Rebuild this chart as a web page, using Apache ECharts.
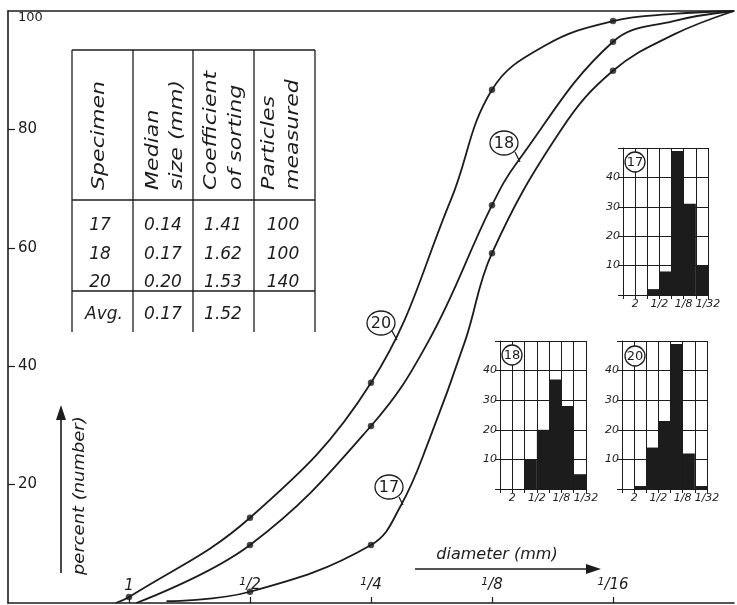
<!DOCTYPE html>
<html><head><meta charset="utf-8">
<script src="https://cdn.jsdelivr.net/npm/echarts@6/dist/echarts.min.js"></script>
<style>html,body{margin:0;padding:0;background:#fff}#c{width:737px;height:605px}</style>
</head><body><div id="c"></div>
<script>
// x values are phi = -log2(diameter in mm)
const diameterLabels = {'0':['1',''],'1':['1','/2'],'2':['1','/4'],'3':['1','/8'],'4':['1','/16']};
const histDiameterLabels = {'-1':'2','1':'1/2','3':'1/8','5':'1/32'};
const percentLabels = [20,40,60,80,100];

// cumulative curves (percent by number)
const curve20 = [[-0.11,0],[0,1.0],[1,14.4],[2,37.2],[2.66,68.1],[3,86.7],[3.45,94.3],[4,98.3],[4.5,99.5],[5,100]];
const curve18 = [[0.06,0],[1,9.8],[2,29.9],[2.48,44.4],[3,67.2],[3.21,74.5],[4,94.8],[4.5,98.3],[5,100]];
const curve17 = [[0.31,0.3],[1,1.9],[2,9.8],[2.25,16.6],[2.48,27.5],[2.78,44.4],[3,59.1],[3.57,79.9],[4,89.9],[4.5,96.0],[5,100]];

// measured points (dots)
const dots20 = [[0,1.0],[1,14.4],[2,37.2],[3,86.7],[4,98.3]];
const dots18 = [[1,9.8],[2,29.9],[3,67.2],[4,94.8]];
const dots17 = [[1,1.9],[2,9.8],[3,59.1],[4,89.9]];

// histograms: percent per size class (bin start phi)
const histBinStart = [-2,-1,0,1,2,3,4];
const hist17 = [0,0,2,8,49,31,10];
const hist18 = [0,0,10,20,37,28,5];
const hist20 = [0,1,14,23,49,12,1];

// table
const tableHeader = [['Specimen'],['Median','size (mm)'],['Coefficient','of sorting'],['Particles','measured']];
const specimens = ['17','18','20'];
const medianSizes = ['0.14','0.17','0.20'];
const sortingCoeffs = ['1.41','1.62','1.53'];
const particleCounts = ['100','100','140'];
const averages = ['Avg.','0.17','1.52',''];

const INK = '#1c1c1c';
const FONT = 'DejaVu Sans';

function histData(vals){ return histBinStart.map((s,i)=>[s, s+1, vals[i]]); }
function histRender(params, api){
  const a = api.coord([api.value(0), api.value(2)]);
  const b = api.coord([api.value(1), 0]);
  return {type:'rect', shape:{x:a[0], y:a[1], width:b[0]-a[0], height:b[1]-a[1]}, style:{fill:INK}};
}

const chart = echarts.init(document.getElementById('c'), null, {renderer:'canvas'});

const grids = [
  {left:8, right:0, top:11, bottom:2},
  {left:623, top:148, width:85, height:147},
  {left:500, top:341, width:86, height:148},
  {left:622, top:341, width:85, height:148}
];
const xAxes = [
  {gridIndex:0, type:'value', min:-1, max:5, interval:1,
   axisLine:{onZero:false, lineStyle:{color:INK, width:1.6}},
   axisTick:{inside:true, length:6, customValues:[0,1,2,3,4], lineStyle:{color:INK, width:1.2}},
   axisLabel:{inside:true, margin:9, color:INK, fontFamily:FONT, fontStyle:'italic', fontSize:15,
     formatter:v=>{ const l = diameterLabels[String(v)]; if(!l) return ''; return l[1] ? `{n|${l[0]}}{d|${l[1]}}` : `{d|${l[0]}}`; },
     rich:{
       n:{fontSize:11, fontFamily:FONT, fontStyle:'italic', color:INK, verticalAlign:'top', padding:[0,0,6,0]},
       d:{fontSize:15, fontFamily:FONT, fontStyle:'italic', color:INK}
     }},
   splitLine:{show:false}},
  {gridIndex:0, type:'value', position:'top', min:-1, max:5,
   axisLine:{show:true, onZero:false, lineStyle:{color:INK, width:1.6}}, axisTick:{show:false}, axisLabel:{show:false}, splitLine:{show:false}}
];
const yAxes = [
  {gridIndex:0, type:'value', min:0, max:100, interval:20,
   axisLine:{show:true, onZero:false, lineStyle:{color:INK, width:1.6}},
   axisTick:{show:true, inside:true, length:7, customValues:[20,40,60,80], lineStyle:{color:INK, width:1.2}},
   axisLabel:{inside:true, margin:10, color:INK, fontFamily:FONT, fontSize:15,
     formatter:v=> v===100 ? '{t|100}' : (percentLabels.includes(v)? String(v):''),
     rich:{t:{fontSize:13, fontFamily:FONT, color:INK, padding:[14,0,0,0]}}},
   splitLine:{show:false}}
];
[1,2,3].forEach(g=>{
  xAxes.push({gridIndex:g, type:'value', min:-2, max:5, interval:1,
    axisLine:{onZero:false, lineStyle:{color:INK, width:1}},
    axisTick:{show:true, length:4, lineStyle:{color:INK}},
    axisLabel:{margin:4, color:INK, fontFamily:FONT, fontStyle:'italic', fontSize:11,
      formatter:v=>histDiameterLabels[String(v)]||''},
    splitLine:{show:true, lineStyle:{color:INK, width:1}}});
  yAxes.push({gridIndex:g, type:'value', min:0, max:50, interval:10,
    axisLine:{show:true, onZero:false, lineStyle:{color:INK, width:1}},
    axisTick:{show:true, length:5, lineStyle:{color:INK}},
    axisLabel:{margin:3, color:INK, fontFamily:FONT, fontStyle:'italic', fontSize:11,
      formatter:v=> (v>0 && v<50) ? String(v) : ''},
    splitLine:{show:true, lineStyle:{color:INK, width:1}}});
});

function curveSeries(data){
  return {type:'line', xAxisIndex:0, yAxisIndex:0, data, smooth:0.4, symbol:'none',
    lineStyle:{color:INK, width:1.8}, z:3};
}
function dotSeries(data){
  return {type:'scatter', xAxisIndex:0, yAxisIndex:0, data, symbol:'circle', symbolSize:6.5,
    itemStyle:{color:INK}, z:4};
}

const series = [
  curveSeries(curve20), curveSeries(curve18), curveSeries(curve17),
  dotSeries(dots20), dotSeries(dots18), dotSeries(dots17),
  {type:'custom', xAxisIndex:2, yAxisIndex:1, data:histData(hist17), renderItem:histRender, z:5},
  {type:'custom', xAxisIndex:3, yAxisIndex:2, data:histData(hist18), renderItem:histRender, z:5},
  {type:'custom', xAxisIndex:4, yAxisIndex:3, data:histData(hist20), renderItem:histRender, z:5}
];

// ---------- graphic annotations ----------
const g = [];
const txt = (x,y,text,opt={}) => g.push(Object.assign({type:'text', x, y, style:Object.assign({text, fill:INK, font:`italic ${opt.size||17}px "${FONT}"`, align:'center', verticalAlign:'middle'}, opt.style||{})}, opt.el||{}));
const line = (x1,y1,x2,y2,w=1.3) => g.push({type:'line', shape:{x1,y1,x2,y2}, style:{stroke:INK, lineWidth:w}});

// table frame
const colX = [72,133,193,254,315];
line(72,50,315,50); line(72,200,315,200); line(72,291,315,291);
colX.forEach(x=>line(x,50,x,332));
// header (rotated)
const headerX = [[100],[154,178],[212,237],[270,294]];
tableHeader.forEach((lines,ci)=>lines.forEach((t,li)=>{
  g.push({type:'text', x:headerX[ci][li], y:190, rotation:Math.PI/2, scaleX:1.3,
    style:{text:t, fill:INK, font:`italic 17px "${FONT}"`, align:'left', verticalAlign:'middle'}});
}));
const colC = [100,163,223,283];
const rowY = [226,255,283];
specimens.forEach((s,i)=>{
  txt(colC[0],rowY[i],s); txt(colC[1],rowY[i],medianSizes[i]); txt(colC[2],rowY[i],sortingCoeffs[i]); txt(colC[3],rowY[i],particleCounts[i]);
});
averages.forEach((s,i)=>{ if(s) txt(i===0?104:colC[i],315,s); });

// axis titles with arrows
g.push({type:'text', x:80, y:575, rotation:Math.PI/2, scaleX:1.12,
  style:{text:'percent (number)', fill:INK, font:`italic 16px "${FONT}"`, align:'left', verticalAlign:'middle'}});
line(61,573,61,412,1.6);
g.push({type:'polygon', shape:{points:[[56,420],[61,405],[66,420]]}, style:{fill:INK}});
txt(497,555,'diameter (mm)',{size:16});
line(415,569,592,569,1.6);
g.push({type:'polygon', shape:{points:[[586,564],[601,569],[586,574]]}, style:{fill:INK}});

// curve labels
function tag(cx,cy,rx,ry,label,lx1,ly1,lx2,ly2,size){
  g.push({type:'ellipse', shape:{cx,cy,rx,ry}, style:{fill:'#fff', stroke:INK, lineWidth:1.3}, z:10});
  g.push({type:'text', x:cx, y:cy+1, z:11, style:{text:label, fill:INK, font:`${size}px "${FONT}"`, align:'center', verticalAlign:'middle'}});
  if(lx1!==null) g.push({type:'line', z:10, shape:{x1:lx1,y1:ly1,x2:lx2,y2:ly2}, style:{stroke:INK, lineWidth:1.3}});
}
tag(381,323,14,12,'20',392,331,397,340,16);
tag(504,143,14,12,'18',515,152,520,162,16);
tag(389,487,14,12,'17',399,497,403,505,16);
tag(635,162,10,10,'17',null,0,0,0,13);
tag(512,355,10,10,'18',null,0,0,0,13);
tag(635,356,10,10,'20',null,0,0,0,13);

chart.setOption({
  backgroundColor:'#ffffff',
  animation:false,
  grid:grids, xAxis:xAxes, yAxis:yAxes, series,
  graphic:g
});
</script></body></html>
